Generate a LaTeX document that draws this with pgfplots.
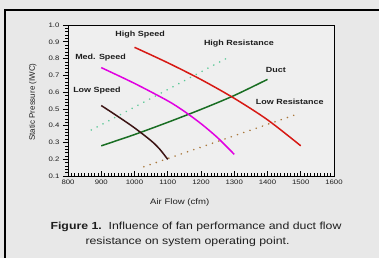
\documentclass[border=0pt]{standalone}
\usepackage{fontspec}
\setmainfont{Liberation Sans}
\newfontfamily\stf[FakeStretch=1.2]{Liberation Sans}
\usepackage{pgfplots}
\pgfplotsset{compat=1.18}
\definecolor{bgcol}{RGB}{232,232,232}
\definecolor{plotbg}{RGB}{239,239,239}
\definecolor{hispeed}{RGB}{215,25,20}
\definecolor{medspeed}{RGB}{225,0,225}
\definecolor{lowspeed}{RGB}{60,20,20}
\definecolor{duct}{RGB}{25,110,35}
\definecolor{hires}{RGB}{90,200,150}
\definecolor{lores}{RGB}{170,120,60}
\definecolor{txt}{RGB}{30,30,30}
\pgfplotstableread{
x y
1000 0.867
1100 0.775
1200 0.675
1300 0.563
1400 0.435
1500 0.28
}\hispeeddata
\pgfplotstableread{
x y
900 0.746
1000 0.652
1100 0.548
1150 0.485
1200 0.412
1250 0.328
1300 0.229
}\medspeeddata
\pgfplotstableread{
x y
900 0.52
950 0.455
1000 0.387
1050 0.31
1075 0.262
1100 0.199
}\lowspeeddata
\pgfplotstableread{
x y
900 0.28
1000 0.347
1100 0.42
1200 0.497
1300 0.58
1400 0.676
}\ductdata
\pgfplotstableread{
x y
870 0.374
1286 0.811
}\hiresdata
\pgfplotstableread{
x y
1028 0.155
1490 0.469
}\loresdata
\begin{document}
\begin{tikzpicture}
\path[use as bounding box] (0,0) rectangle (379bp,258bp);
\fill[bgcol] (0,0) rectangle (379bp,258bp);
\draw[black, line width=2bp] (5bp,0) -- (5bp,248bp) -- (379bp,248bp);
\begin{axis}[
  at={(68bp,82bp)}, anchor=south west,
  width=266bp, height=151bp, scale only axis,
  xmin=800, xmax=1600, ymin=0.1, ymax=1.0,
  axis background/.style={fill=plotbg},
  xtick={800,900,1000,1100,1200,1300,1400,1500,1600},
  ytick={0.1,0.2,0.3,0.4,0.5,0.6,0.7,0.8,0.9,1.0},
  minor x tick num=9, minor y tick num=4,
  xtick pos=bottom, ytick pos=left,
  xtick align=inside, ytick align=outside,
  major tick length=5bp, minor tick length=2.5bp,
  every tick/.style={black, line width=0.6bp},
  axis line style={black, line width=0.8bp},
  /pgf/number format/assume math mode=true,
  /pgf/number format/set thousands separator={},
  yticklabel style={/pgf/number format/fixed, /pgf/number format/precision=1, /pgf/number format/fixed zerofill},
  tick label style={font=\stf\fontsize{6.5}{6.5}\selectfont, text=txt},
  xlabel={Air Flow (cfm)},
  ylabel={Static Pressure (IWC)},
  xlabel style={font=\fontsize{8}{8}\selectfont\stf, text=txt, at={(axis description cs:0.42,-0.172)}, anchor=center},
  ylabel style={font=\fontsize{8}{8}\selectfont, text=txt, at={(axis description cs:-0.132,0.49)}, anchor=center},
  clip=false,
]
\addplot[hires, line width=1.7bp, line cap=round, dash pattern=on 0.1bp off 6.5bp] table[x=x,y=y] {\hiresdata};
\addplot[lores, line width=1.7bp, line cap=round, dash pattern=on 0.1bp off 6.5bp] table[x=x,y=y] {\loresdata};
\addplot[duct, line width=1.5bp, smooth] table[x=x,y=y] {\ductdata};
\addplot[lowspeed, line width=1.5bp, smooth] table[x=x,y=y] {\lowspeeddata};
\addplot[medspeed, line width=1.5bp, smooth] table[x=x,y=y] {\medspeeddata};
\addplot[hispeed, line width=1.5bp, smooth] table[x=x,y=y] {\hispeeddata};
\begin{scope}[every node/.style={font=\fontsize{7.5}{7.5}\selectfont\stf\bfseries, text=txt, inner sep=0pt}]
\node at (axis cs:1017,0.944) {High Speed};
\node at (axis cs:1314,0.887) {High Resistance};
\node at (axis cs:898,0.807) {Med. Speed};
\node at (axis cs:1425,0.732) {Duct};
\node at (axis cs:887,0.608) {Low Speed};
\node at (axis cs:1467,0.543) {Low Resistance};
\end{scope}
\end{axis}
\node[font=\fontsize{10.3}{10.3}\selectfont\stf, text=txt, inner sep=0pt] at (196bp,31bp) {\textbf{Figure 1.}\ \ Influence of fan performance and duct flow};
\node[font=\fontsize{10.3}{10.3}\selectfont\stf, text=txt, inner sep=0pt] at (187.5bp,16bp) {resistance on system operating point.};
\end{tikzpicture}
\end{document}
